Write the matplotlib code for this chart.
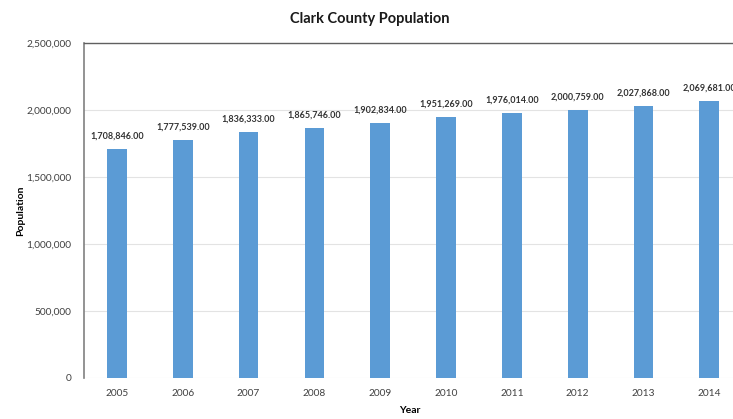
import matplotlib
matplotlib.use("Agg")
import matplotlib.pyplot as plt
from matplotlib.ticker import FuncFormatter

plt.rcParams['font.family'] = ['Lato', 'DejaVu Sans']

years = ['2005', '2006', '2007', '2008', '2009', '2010', '2011', '2012', '2013', '2014']
population = [1708846, 1777539, 1836333, 1865746, 1902834,
              1951269, 1976014, 2000759, 2027868, 2069681]

fig = plt.figure(figsize=(7.33, 4.19), dpi=100)
ax = fig.add_axes([0.1146, 0.098, 0.898, 0.799])

x = range(len(years))
ax.bar(x, population, width=0.3, color='#5B9BD5', zorder=2)

for xi, v in zip(x, population):
    ax.annotate(f"{v:,.2f}", (xi, v), xytext=(0, 6), textcoords='offset points',
                ha='center', va='bottom', fontsize=6.5, fontweight='bold',
                color='#333333', annotation_clip=False)

ax.set_xlim(-0.5, len(years) - 0.5)
ax.set_ylim(0, 2500000)
ax.set_yticks(range(0, 2500001, 500000))
ax.yaxis.set_major_formatter(FuncFormatter(lambda v, p: f"{int(v):,}"))
ax.set_xticks(list(x))
ax.set_xticklabels(years)
ax.tick_params(axis='both', length=0, labelsize=7.3, colors='#404040')
ax.tick_params(axis='y', pad=9)
ax.tick_params(axis='x', pad=8)

ax.grid(axis='y', color='#e3e3e3', linewidth=0.8, zorder=0)
ax.set_axisbelow(True)
for side in ['right', 'bottom']:
    ax.spines[side].set_visible(False)
ax.spines['left'].set_color('#808080')
ax.spines['left'].set_linewidth(1.2)
ax.spines['top'].set_color('#606060')
ax.spines['top'].set_linewidth(1.0)

ax.set_xlabel('Year', fontsize=7.5, fontweight='bold')
ax.xaxis.set_label_coords(0.495, -0.085)
ax.set_ylabel('Population', fontsize=7.5, fontweight='bold')
ax.yaxis.set_label_coords(-0.09, 0.5)

fig.text(0.505, 0.955, 'Clark County Population', ha='center', va='center',
         fontsize=10.5, fontweight='bold', color='#1a1a1a')

fig.savefig('out.png', dpi=100)
